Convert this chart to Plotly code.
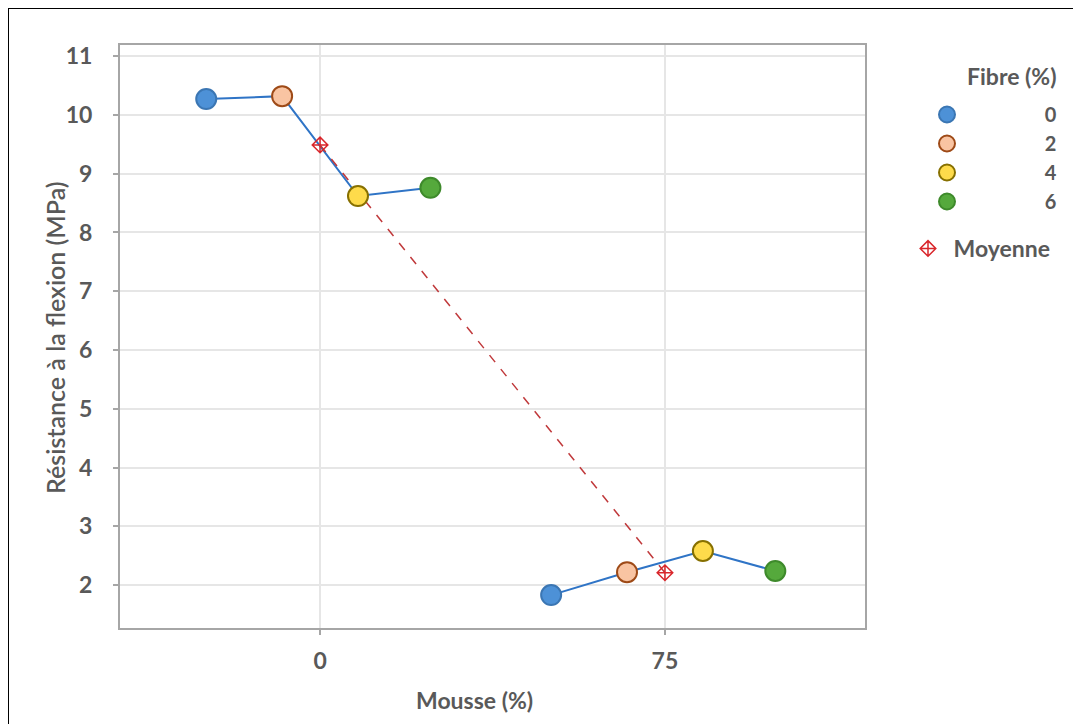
import plotly.graph_objects as go

# ---- data ----
mousse_labels = ["0", "75"]              # x categories (Mousse %)
fibre_levels = ["0", "2", "4", "6"]      # Fibre (%) groups
res_mousse0 = [10.27, 10.32, 8.62, 8.76]  # resistance at Mousse 0, per fibre
res_mousse75 = [1.83, 2.22, 2.58, 2.24]   # resistance at Mousse 75, per fibre
mean_values = [9.49, 2.21]                # Moyenne per mousse level

# ---- style ----
W, H = 1081, 724
OFF = 8                      # page offset of the figure (body margin)
L, T = 112, 37
pw, ph = 745, 583
R, B = W - L - pw, H - T - ph
cat_pos = [1, 2]
dodge = [-0.33, -0.11, 0.11, 0.32]
fill = ["#4d91d7", "#f9c4a2", "#fedb4b", "#55a93c"]
edge = ["#3b76b3", "#9e4a17", "#877000", "#3e8a2b"]
grey = "#595959"
FONT = "Lato"

def px2paper_x(px):          # px: page coordinate
    return (px - OFF - L) / pw

def px2paper_y(py):
    return 1 - (py - OFF - T) / ph

fig = go.Figure()

groups = [res_mousse0, res_mousse75]
# connecting blue lines inside each mousse group
for gi, vals in enumerate(groups):
    xs = [cat_pos[gi] + d for d in dodge]
    fig.add_trace(go.Scatter(x=xs, y=vals, mode="lines",
                             line=dict(color="#2f74c6", width=2),
                             showlegend=False, hoverinfo="skip"))

# mean dashed line
fig.add_trace(go.Scatter(x=cat_pos, y=mean_values, mode="lines",
                         line=dict(color="#c0393b", width=1.5, dash="dash"),
                         showlegend=False, hoverinfo="skip"))

pad = "\u00a0" * 16
for fi, lab in enumerate(fibre_levels):
    xs = [cat_pos[gi] + dodge[fi] for gi in range(len(groups))]
    ys = [groups[gi][fi] for gi in range(len(groups))]
    fig.add_trace(go.Scatter(x=xs, y=ys, mode="markers", name=pad + lab,
                             marker=dict(size=20, color=fill[fi],
                                         line=dict(color=edge[fi], width=2)),
                             legend="legend"))

fig.add_trace(go.Scatter(x=cat_pos, y=mean_values, mode="markers",
                         name="\u00a0Moyenne",
                         marker=dict(symbol="diamond-cross-open", size=12,
                                     color="#d9262b", line=dict(width=1.5)),
                         legend="legend2"))

tick_font = dict(family=FONT, size=23, color=grey, weight="bold")
axis_common = dict(showline=True, linecolor="#a6a6a6", linewidth=2, mirror=True,
                   showgrid=True, gridcolor="#e6e6e6", gridwidth=1.5,
                   ticks="outside", ticklen=5, tickcolor="#a6a6a6", tickwidth=1.5,
                   zeroline=False, tickfont=tick_font)

fig.update_xaxes(range=[0.42, 2.58], tickvals=cat_pos, ticktext=mousse_labels,
                 ticklabelstandoff=6, **axis_common)
fig.update_yaxes(range=[1.27, 11.19], tickvals=list(range(2, 12)),
                 ticklabelstandoff=16, **axis_common)

legend_font = dict(family=FONT, size=20, color=grey, weight="bold")
big_font = dict(family=FONT, size=23, color=grey, weight="bold")
fig.update_layout(
    width=W, height=H,
    margin=dict(l=L, r=R, t=T, b=B, autoexpand=False),
    plot_bgcolor="white", paper_bgcolor="white",
    showlegend=True,
    legend=dict(x=px2paper_x(927), y=px2paper_y(95), xanchor="left", yanchor="top",
                font=legend_font, bgcolor="rgba(0,0,0,0)", tracegroupgap=0),
    legend2=dict(x=px2paper_x(908), y=px2paper_y(227), xanchor="left", yanchor="top",
                 font=big_font, bgcolor="rgba(0,0,0,0)"),
    annotations=[
        dict(text="Fibre (%)", xref="paper", yref="paper",
             x=px2paper_x(1058), y=px2paper_y(76), xanchor="right",
             yanchor="middle", showarrow=False, font=big_font),
        dict(text="Mousse (%)", xref="paper", yref="paper",
             x=px2paper_x(474), y=px2paper_y(700), xanchor="center",
             yanchor="middle", showarrow=False, font=big_font),
        dict(text="Résistance à la flexion (MPa)", xref="paper", yref="paper",
             x=px2paper_x(55), y=px2paper_y(338), xanchor="center",
             yanchor="middle", showarrow=False, textangle=-90,
             font=dict(family=FONT, size=25, color=grey, weight=600)),
    ],
    shapes=[
        dict(type="line", xref="paper", yref="paper",
             x0=px2paper_x(8), y0=px2paper_y(8), x1=px2paper_x(1100), y1=px2paper_y(8),
             line=dict(color="black", width=2)),
        dict(type="line", xref="paper", yref="paper",
             x0=px2paper_x(8), y0=px2paper_y(8), x1=px2paper_x(8), y1=px2paper_y(740),
             line=dict(color="black", width=2)),
    ],
)

fig.write_html("out.html")
